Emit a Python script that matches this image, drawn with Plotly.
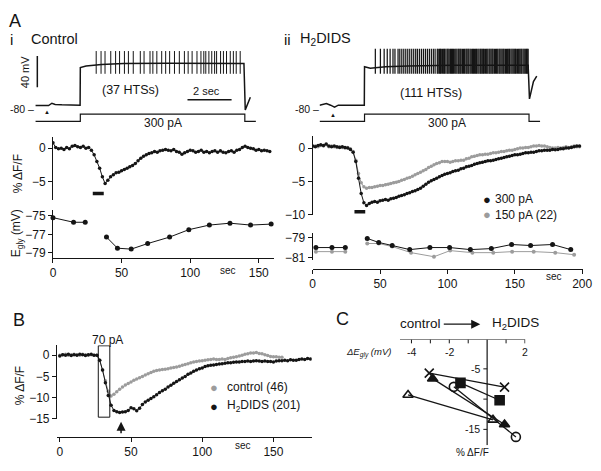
import plotly.graph_objects as go

W, H = 601, 471
FONT = "Liberation Sans, Arial, sans-serif"
BLK = "#151515"
GRY = "#9c9c9c"

# ---------------- data ----------------
# A: membrane voltage traces (s from trace start, mV)
vi_t = [0.0, 0.3, 0.6, 0.75, 0.9, 1.2, 1.5, 1.8, 2.03, 2.04, 2.3, 3.0, 4.0, 6.0, 8.0, 9.46, 9.52, 9.75]
vi_v = [-74.5, -74.8, -74.5, -71.5, -73.0, -73.5, -73.5, -73.8, -74.0, -26.0, -24.0, -22.0, -21.0, -20.5, -20.5, -21.0, -80.0, -64.0]
vii_t = [0.0, 0.31, 0.5, 0.68, 0.85, 1.2, 1.6, 2.03, 2.04, 2.3, 3.0, 4.0, 6.0, 9.46, 9.52, 9.6, 9.7, 9.85]
vii_v = [-74.0, -72.0, -74.0, -76.5, -74.0, -74.0, -73.8, -74.0, -25.0, -27.0, -25.0, -24.0, -23.0, -23.0, -66.0, -55.0, -44.0, -37.0]

# spike (HTS) times, s
spikes_i = [2.76, 2.98, 3.16, 3.42, 3.64, 3.82, 4.04, 4.22, 4.44, 4.76, 4.93, 5.20, 5.33,
            5.51, 5.73, 5.91, 6.09, 6.31, 6.53, 6.76, 6.93, 7.11, 7.33, 7.51, 7.64, 7.73,
            7.87, 8.00, 8.13, 8.22, 8.40, 8.53, 8.67, 8.84, 8.98, 9.11, 9.29]
spikes_ii = [2.53, 2.76, 2.93, 3.07, 3.20, 3.33, 3.42, 3.56, 3.64, 3.73, 3.82, 3.91, 4.00, 4.09,
             4.18, 4.27, 4.36, 4.44, 4.53, 4.62, 4.71, 4.80, 4.89, 4.98, 5.07, 5.16, 5.24,
             5.34, 5.38, 5.44, 5.48, 5.52, 5.58, 5.63, 5.67, 5.73, 5.79,
             5.83, 5.88, 5.94, 5.98, 6.03, 6.07, 6.13, 6.18, 6.23, 6.29,
             6.33, 6.38, 6.42, 6.48, 6.53, 6.58, 6.64, 6.68, 6.73, 6.77,
             6.83, 6.88, 6.94, 6.98, 7.03, 7.08, 7.12, 7.18, 7.23, 7.29,
             7.33, 7.38, 7.43, 7.47, 7.53, 7.58, 7.63, 7.69, 7.73, 7.78,
             7.83, 7.87, 7.93, 7.98, 8.03, 8.08, 8.14, 8.18, 8.23, 8.28,
             8.33, 8.37, 8.43, 8.48, 8.53, 8.58, 8.62, 8.68, 8.73, 8.78,
             8.83, 8.88, 8.92, 8.98, 9.03, 9.08, 9.13, 9.17, 9.23, 9.28,
             9.33, 9.38, 9.42, 9.46]
spike_top_i, spike_bot_i = -5.0, -34.0
spike_top_ii, spike_bot_ii = -2.0, -34.0

# injected current
cur_t = [0.0, 2.04, 2.04, 9.5, 9.5, 10.0]
cur_pA = [0, 0, 300, 300, 0, 0]

# A-i  %dF/F (every 2 s, 0..158)
t_i = list(range(0, 160, 2))
dff_i = [0.8, 0.1, -0.1, 0.0, -0.2, 0.1, -0.1, 0.3, 0.4, 0.2,
         0.1, 0.3, 0.0, 0.1, -0.3, -1.0, -2.0, -3.0, -4.3, -5.3,
         -4.8, -4.3, -4.0, -3.7, -3.6, -3.4, -3.2, -3.0, -2.8, -2.6,
         -2.3, -1.9, -1.5, -1.2, -1.0, -0.8, -0.7, -0.5, -0.6, -0.4,
         -0.3, -0.2, -0.3, -0.4, -0.2, -0.5, -0.6, -0.9, -0.7, -0.5,
         -0.3, -0.4, -0.6, -0.5, -0.3, -0.6, -0.5, -0.7, -0.5, -0.4,
         -0.6, -0.4, -0.6, -0.7, -0.5, -0.4, -0.6, -0.3, -0.2, 0.1,
         0.3, 0.1, 0.0, -0.1, -0.3, -0.2, -0.4, -0.3, -0.4, -0.5]
stim_i = [29, 37]
# A-i Egly
egly_i_t = [0, 15, 23.5, None, 39, 47, 57, 69, 85, 99, 114, 129, 144, 159]
egly_i_v = [-75.2, -75.7, -75.7, None, -77.3, -78.5, -78.6, -78.0, -77.3, -76.5, -76.0, -75.8, -76.0, -75.9]

# A-ii %dF/F (every 2 s, 0..198)
t_ii = list(range(0, 200, 2))
dff_ii_300 = [0.3, 0.2, 0.4, 0.5, 0.4, 0.6, 0.3, 0.2, 0.3, 0.2,
              0.1, 0.2, 0.1, 0.0, -0.2, -0.6, -2.0, -4.5, -6.8, -8.2,
              -8.6, -8.3, -8.1, -8.0, -8.1, -7.9, -7.8, -7.7, -7.8, -7.6,
              -7.5, -7.4, -7.2, -7.1, -7.0, -6.8, -6.7, -6.5, -6.4, -6.2,
              -6.0, -5.7, -5.4, -5.1, -4.9, -4.7, -4.5, -4.3, -4.1, -3.9,
              -3.8, -3.7, -3.5, -3.4, -3.3, -3.1, -3.0, -2.8, -2.7, -2.6,
              -2.4, -2.3, -2.2, -2.1, -2.0, -1.9, -1.9, -1.8, -1.7, -1.6,
              -1.5, -1.4, -1.3, -1.2, -1.1, -1.0, -1.0, -0.9, -0.8, -0.7,
              -0.7, -0.6, -0.6, -0.5, -0.4, -0.4, -0.3, -0.3, -0.3, -0.2,
              -0.25, -0.2, -0.1, -0.1, 0.0, 0.0, 0.1, 0.2, 0.3, 0.3]
dff_ii_150 = [0.2, 0.3, 0.2, 0.4, 0.3, 0.5, 0.2, 0.3, 0.2, 0.1,
              0.2, 0.1, 0.0, 0.1, -0.1, -0.5, -1.8, -3.8, -5.2, -5.8,
              -6.0, -5.9, -5.9, -5.8, -5.7, -5.6, -5.6, -5.5, -5.4, -5.3,
              -5.2, -5.1, -5.0, -4.8, -4.7, -4.5, -4.4, -4.2, -4.0, -3.8,
              -3.6, -3.4, -3.2, -2.9, -2.7, -2.5, -2.3, -2.2, -2.0, -2.0,
              -2.0, -2.1, -2.0, -1.9, -1.9, -1.8, -1.8, -1.6, -1.5, -1.3,
              -1.2, -1.1, -1.0, -1.0, -0.9, -0.9, -0.8, -0.7, -0.7, -0.6,
              -0.5, -0.5, -0.4, -0.3, -0.3, -0.2, -0.1, 0.0, 0.0, 0.1,
              0.1, 0.2, 0.3, 0.3, 0.4, 0.3, 0.3, 0.2, 0.1, 0.0,
              0.0, 0.1, 0.0, 0.1, 0.2, 0.1, 0.2, 0.3, 0.2, 0.2]
stim_ii = [31, 39]
egly_ii_t300 = [2.4, 14.3, 24.2, None, 40.5, 49, 59, 72, 87, 101.6, 117, 132.6, 147.6, 161.7, 178, 191.5]
egly_ii_v300 = [-80.0, -80.0, -80.0, None, -79.1, -79.5, -79.8, -80.2, -80.0, -80.0, -80.2, -80.1, -79.7, -79.8, -79.7, -80.2]
egly_ii_t150 = [2.4, 14.3, 24.2, None, 40.5, 49, 59, 73, 90, 102, 118.5, 134, 148, 164, 180, 194]
egly_ii_v150 = [-80.4, -80.4, -80.4, None, -79.6, -79.6, -79.9, -80.5, -80.9, -80.3, -80.5, -80.5, -80.4, -80.4, -80.5, -80.7]

# B %dF/F
t_b_h2 = list(range(0, 178, 2))
dff_b_h2 = [-0.2, 0.1, 0.0, 0.2, -0.1, 0.1, 0.0, 0.2, 0.1, -0.1,
            0.1, 0.2, 0.0, 0.0, -1.2, -3.5, -6.5, -9.5, -11.8, -13.0,
            -13.3, -13.5, -13.4, -13.3, -13.0, -12.4, -12.6, -13.1, -12.5, -11.6,
            -11.0, -10.6, -10.2, -9.8, -9.3, -8.8, -8.4, -8.0, -7.5, -7.1,
            -6.6, -6.2, -5.8, -5.4, -5.0, -4.5, -4.2, -3.8, -3.5, -3.2,
            -3.0, -2.7, -2.5, -2.4, -2.3, -2.2, -2.1, -2.0, -1.9, -1.8,
            -1.8, -1.7, -1.6, -1.6, -1.5, -1.5, -1.4, -1.5, -1.4, -1.3,
            -1.4, -1.5, -1.4, -1.5, -1.5, -1.6, -1.4, -1.3, -1.3, -1.2,
            -1.3, -1.1, -1.2, -1.2, -1.0, -0.9, -1.0, -0.8, -0.9]
t_b_ctl = list(range(0, 158, 2))
dff_b_ctl = [0.0, 0.1, 0.2, 0.0, 0.1, 0.2, 0.1, 0.0, 0.2, 0.1,
             0.0, 0.1, 0.0, 0.0, -1.2, -3.5, -6.0, -8.5, -9.6, -9.2,
             -8.6, -8.0, -7.5, -7.0, -6.7, -6.3, -5.9, -5.6, -5.3, -5.0,
             -4.7, -4.4, -4.1, -3.8, -3.6, -3.5, -3.4, -3.3, -3.2, -3.0,
             -2.9, -2.8, -2.6, -2.4, -2.2, -2.0, -1.8, -1.6, -1.5, -1.4,
             -1.3, -1.2, -1.1, -1.0, -0.9, -1.0, -1.0, -0.9, -1.0, -0.8,
             -0.6, -0.5, -0.4, -0.2, 0.0, 0.2, 0.3, 0.5, 0.5, 0.6,
             0.4, 0.3, 0.1, -0.1, -0.3, -0.4, -0.4, -0.5, -0.5]
stim_b = [27, 35.1]
arrow_b_t = 43

# C: dEgly (mV) vs %dF/F, control -> H2DIDS per cell
c_ctrl_dE = [-3.06, -1.41, -2.88, -1.76, -4.18]
c_ctrl_dF = [-5.70, -7.32, -6.62, -7.97, -9.32]
c_h2_dE = [0.92, 0.66, 0.92, 1.52, 0.31]
c_h2_dF = [-8.03, -10.19, -14.19, -16.24, -13.43]
c_symbols = ["x-thin", "square", "triangle-up", "circle-open", "triangle-up-open"]
c_xticks = [-4, -3, -2, -1, 1, 2]
c_xticklabels = ["-4", "", "-2", "", "", "2"]
c_yticks = [-5, -10, -15]
c_yticklabels = ["-5", "", "-15"]


# ---------------- helpers ----------------
def xd(a, b):
    return [a / W, b / W]


def yd(top, bot):
    return [1 - bot / H, 1 - top / H]


def px(x):
    return x / W


def py(y):
    return 1 - y / H


def spikes(times, top, bot):
    xs, ys = [], []
    for t in times:
        xs += [t, t, None]
        ys += [top, bot, None]
    return xs, ys


fig = go.Figure()

# ---- A traces ----
for xa, ya_v, ya_i, vt, vv, sp, top, bot, sw in [
    ("x", "y", "y2", vi_t, vi_v, spikes_i, spike_top_i, spike_bot_i, 1.0),
    ("x2", "y3", "y4", vii_t, vii_v, spikes_ii, spike_top_ii, spike_bot_ii, 1.25),
]:
    fig.add_trace(go.Scatter(x=cur_t, y=cur_pA, xaxis=xa, yaxis=ya_i, mode="lines",
                             line=dict(color=BLK, width=1.2)))
    fig.add_trace(go.Scatter(x=vt, y=vv, xaxis=xa, yaxis=ya_v, mode="lines",
                             line=dict(color=BLK, width=1.5)))
    sx, sy = spikes(sp, top, bot)
    fig.add_trace(go.Scatter(x=sx, y=sy, xaxis=xa, yaxis=ya_v, mode="lines",
                             line=dict(color=BLK, width=sw)))

# A-i dF/F and Egly
fig.add_trace(go.Scatter(x=t_i, y=dff_i, xaxis="x3", yaxis="y5", mode="lines+markers",
                         line=dict(color=BLK, width=1), marker=dict(color=BLK, size=3.5)))
fig.add_trace(go.Scatter(x=egly_i_t, y=egly_i_v, xaxis="x3", yaxis="y6", mode="lines+markers",
                         line=dict(color=BLK, width=1), marker=dict(color=BLK, size=5),
                         connectgaps=False, cliponaxis=False))
# A-ii
fig.add_trace(go.Scatter(x=t_ii, y=dff_ii_150, xaxis="x4", yaxis="y7", mode="lines+markers",
                         line=dict(color=GRY, width=1), marker=dict(color=GRY, size=3.5)))
fig.add_trace(go.Scatter(x=t_ii, y=dff_ii_300, xaxis="x4", yaxis="y7", mode="lines+markers",
                         line=dict(color=BLK, width=1), marker=dict(color=BLK, size=3.5)))
fig.add_trace(go.Scatter(x=egly_ii_t150, y=egly_ii_v150, xaxis="x4", yaxis="y8", mode="lines+markers",
                         line=dict(color=GRY, width=1), marker=dict(color=GRY, size=4),
                         connectgaps=False, cliponaxis=False))
fig.add_trace(go.Scatter(x=egly_ii_t300, y=egly_ii_v300, xaxis="x4", yaxis="y8", mode="lines+markers",
                         line=dict(color=BLK, width=1), marker=dict(color=BLK, size=5),
                         connectgaps=False, cliponaxis=False))
# B
fig.add_trace(go.Scatter(x=t_b_ctl, y=dff_b_ctl, xaxis="x5", yaxis="y9", mode="lines+markers",
                         line=dict(color=GRY, width=1), marker=dict(color=GRY, size=3.5)))
fig.add_trace(go.Scatter(x=t_b_h2, y=dff_b_h2, xaxis="x5", yaxis="y9", mode="lines+markers",
                         line=dict(color=BLK, width=1), marker=dict(color=BLK, size=3.5)))

# ---------------- layout ----------------
hidden = dict(visible=False, showgrid=False, zeroline=False, fixedrange=True)
ax = dict(showline=True, linecolor=BLK, linewidth=1, ticks="outside", ticklen=4, tickwidth=1,
          tickcolor=BLK, showgrid=False, zeroline=False, fixedrange=True,
          ticklabeloverflow="allow",
          tickfont=dict(size=12, color=BLK, family=FONT))
tr_range = [0, 227 / 22.5]
v_range = [-92.5, 13.75]
i_range = [-174, 676]
c_x_range = [-4.61, 2.02]
c_y_range = [-17.64, -0.14]

# C: axis lines (y axis crosses at dEgly = 0) and tick marks, drawn in C's data scale
fig.add_trace(go.Scatter(x=[0, 0], y=c_y_range, xaxis="x6", yaxis="y10", mode="lines",
                         line=dict(color=BLK, width=1.2), cliponaxis=False))
fig.add_trace(go.Scatter(x=[c_x_range[0], c_x_range[1]], y=[c_y_range[1], c_y_range[1]],
                         xaxis="x6", yaxis="y10", mode="lines",
                         line=dict(color=BLK, width=1.2), cliponaxis=False))
for v in c_xticks:
    fig.add_trace(go.Scatter(x=[v, v], y=[c_y_range[1], c_y_range[1] - 0.65], xaxis="x6", yaxis="y10",
                             mode="lines", line=dict(color=BLK, width=1), cliponaxis=False))
for v in c_yticks:
    fig.add_trace(go.Scatter(x=[0, -0.2], y=[v, v], xaxis="x6", yaxis="y10",
                             mode="lines", line=dict(color=BLK, width=1), cliponaxis=False))
# C data
for i, sym in enumerate(c_symbols):
    fig.add_trace(go.Scatter(
        x=[c_ctrl_dE[i], c_h2_dE[i]], y=[c_ctrl_dF[i], c_h2_dF[i]],
        xaxis="x6", yaxis="y10", mode="lines+markers", cliponaxis=False,
        line=dict(color=BLK, width=1.3),
        marker=dict(symbol=sym, size=9, color=BLK, line=dict(color=BLK, width=1.6))))

layout = dict(
    width=W, height=H, margin=dict(l=0, r=0, t=0, b=0),
    paper_bgcolor="white", plot_bgcolor="rgba(0,0,0,0)", showlegend=False,
    font=dict(family=FONT, color=BLK),
    xaxis=dict(domain=xd(33, 260), range=tr_range, anchor="y", **hidden),
    yaxis=dict(domain=yd(35, 120), range=v_range, anchor="x", **hidden),
    yaxis2=dict(domain=yd(105, 126), range=i_range, anchor="x", **hidden),
    xaxis2=dict(domain=xd(323, 550), range=tr_range, anchor="y3", **hidden),
    yaxis3=dict(domain=yd(35, 120), range=v_range, anchor="x2", **hidden),
    yaxis4=dict(domain=yd(105, 126), range=i_range, anchor="x2", **hidden),
    xaxis3=dict(domain=xd(51, 277), range=[0, 161.43], anchor="y6", tickvals=[0, 50, 100, 150], **ax),
    yaxis5=dict(domain=yd(138, 202), range=[-7.79, 1.62], anchor="x3", tickvals=[0, -5], **ax),
    yaxis6=dict(domain=yd(212, 261), range=[-79.56, -74.37], anchor="x3", tickvals=[-75, -77, -79], **ax),
    xaxis4=dict(domain=xd(316, 592), range=[0, 200.73], anchor="free", position=py(272),
                tickvals=[0, 50, 100, 150, 200], **ax),
    yaxis7=dict(domain=yd(137, 217), range=[-10, 1.76], anchor="x4", tickvals=[0, -5, -10], **ax),
    yaxis8=dict(domain=yd(235, 263), range=[-81.22, -78.52], anchor="x4", tickvals=[-79, -81], **ax),
    xaxis5=dict(domain=xd(55, 315), range=[-2.06, 176.9], anchor="free", position=py(443),
                tickvals=[0, 50, 100, 150], **ax),
    yaxis9=dict(domain=yd(350, 425), range=[-15, 2.31], anchor="x5", tickvals=[0, -5, -10, -15], **ax),
    xaxis6=dict(domain=xd(405, 533), range=c_x_range, anchor="y10", **hidden),
    yaxis10=dict(domain=yd(344, 452), range=c_y_range, anchor="x6", **hidden),
)
fig.update_layout(**layout)

# ---- shapes ----
shapes = [
    # 40 mV / 2 s scale bars (A-i trace axes)
    dict(type="line", xref="x", yref="y", x0=0.09, x1=0.09, y0=-51.25, y1=-51.25 + 40,
         line=dict(color=BLK, width=1.5)),
    dict(type="line", xref="x", yref="y", x0=6.9, x1=6.9 + 2, y0=-67, y1=-67,
         line=dict(color=BLK, width=1.5)),
    # stimulus bars
    dict(type="line", xref="x3", yref="y5", x0=stim_i[0], x1=stim_i[1], y0=-6.8, y1=-6.8,
         line=dict(color=BLK, width=3.5)),
    dict(type="line", xref="x4", yref="y7", x0=stim_ii[0], x1=stim_ii[1], y0=-9.55, y1=-9.55,
         line=dict(color=BLK, width=3.5)),
    # B stimulus box
    dict(type="rect", xref="x5", yref="y9", x0=stim_b[0], x1=stim_b[1], y0=-14.6, y1=2.2,
         line=dict(color=BLK, width=1)),
]
fig.update_layout(shapes=shapes)

# ---- annotations ----
anns = []


def text(t, x, y, size, xanchor="center", angle=0, color=BLK, italic=False):
    if italic:
        t = "<i>" + t + "</i>"
    anns.append(dict(text=t, x=px(x), y=py(y), xref="paper", yref="paper", showarrow=False,
                     xanchor=xanchor, yanchor="middle", textangle=angle,
                     font=dict(size=size, color=color, family=FONT)))


text("A", 12.5, 19, 18)
text("i", 9, 38, 15)
text("Control", 27, 38, 14.5, xanchor="left")
text("ii", 290, 38, 15)
text("H<sub>2</sub>DIDS", 301, 38, 14.5, xanchor="left")
text("40 mV", 22, 72, 11, angle=-90)
text("-80 –", 34, 109, 10.5, xanchor="right")
text("-80 –", 324, 109, 10.5, xanchor="right")
text("▲", 45, 112, 6)
text("▲", 337, 115, 6)
text("(37 HTSs)", 130, 90, 12.5)
text("2 sec", 208, 91, 11)
text("300 pA", 163, 123, 12)
text("(111 HTSs)", 437, 93, 12.5)
text("300 pA", 453, 123, 12)
text("% ΔF/F", 15, 175, 12, angle=-90)
text("E<sub>gly</sub> (mV)", 15, 236, 12, angle=-90)
text("sec", 230, 274, 10)
text("sec", 562, 280, 10)
text("●", 494, 201, 13)
text("300 pA", 500, 201, 12, xanchor="left")
text("●", 494, 217, 13, color=GRY)
text("150 pA (22)", 500, 217, 12, xanchor="left")
text("B", 16.5, 324.5, 18)
text("70 pA", 107, 345, 12)
text("% ΔF/F", 17, 391, 12, angle=-90)
text("●", 215, 393, 13, color=GRY)
text("control (46)", 227, 393, 12, xanchor="left")
text("●", 215, 412, 13)
text("H<sub>2</sub>DIDS (201)", 227, 412, 12, xanchor="left")
text("sec", 245, 452, 10)
text("C", 346, 323, 18)
text("control", 403, 328, 13.5, xanchor="left")
text("H<sub>2</sub>DIDS", 497, 328, 13.5, xanchor="left")
text("ΔE<sub>gly</sub> (mV)", 398, 357, 9.5, xanchor="right", italic=True)
text("% ΔF/F", 479, 459, 10)

# C tick labels (data coordinates of C)
for v, lab in zip(c_xticks, c_xticklabels):
    if lab:
        anns.append(dict(text=lab, x=v, y=py(357), xref="x6", yref="paper", showarrow=False,
                         xanchor="center", yanchor="middle",
                         font=dict(size=10.5, color=BLK, family=FONT)))
for v, lab in zip(c_yticks, c_yticklabels):
    if lab:
        anns.append(dict(text=lab, x=0, y=v, xref="x6", yref="y10", showarrow=False,
                         xanchor="right", yanchor="middle", xshift=-5,
                         font=dict(size=10.5, color=BLK, family=FONT)))

# arrows
anns.append(dict(x=arrow_b_t, xref="x5", y=py(428), yref="paper", text="", showarrow=True,
                 ax=0, ay=13, arrowhead=2, arrowsize=1.2, arrowwidth=1.5, arrowcolor=BLK))
anns.append(dict(x=px(487), xref="paper", y=py(328.5), yref="paper", text="", showarrow=True,
                 ax=-38, ay=0, arrowhead=2, arrowsize=1.4, arrowwidth=1.3, arrowcolor=BLK))
fig.update_layout(annotations=anns)

fig.write_html("out.html", config={"displayModeBar": False},
               post_script="document.body.style.margin='0px';")
